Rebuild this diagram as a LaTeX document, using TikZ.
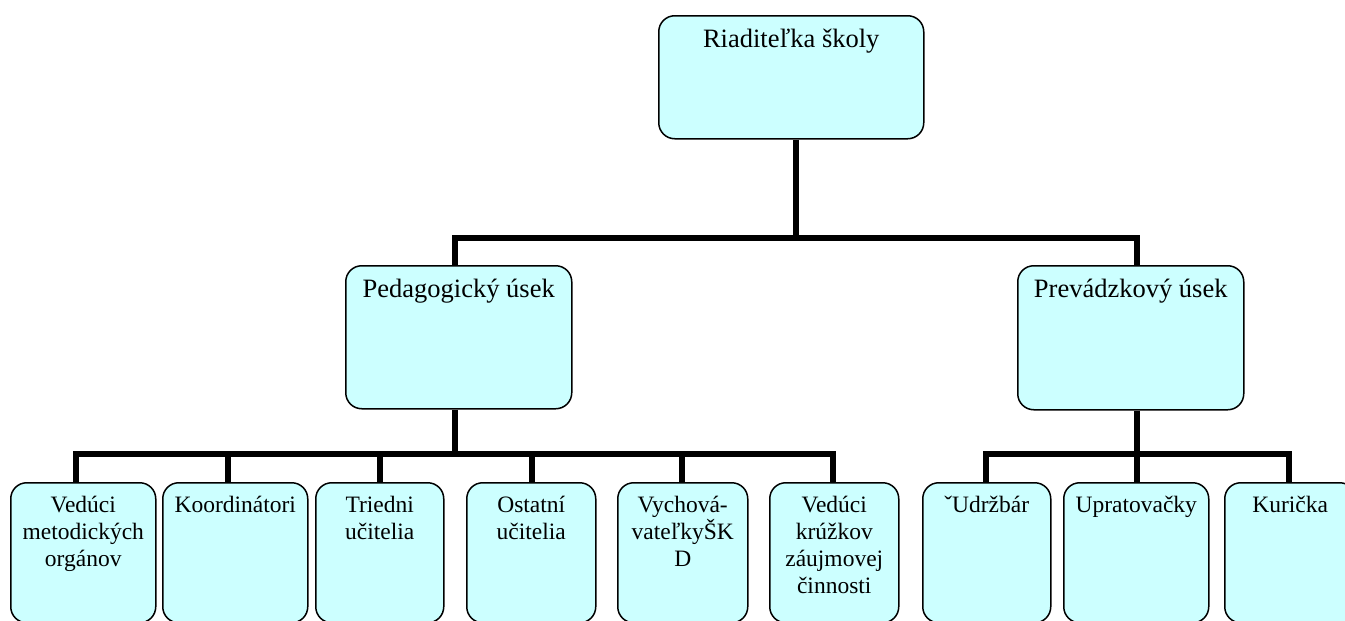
\documentclass[tikz,border=0pt]{standalone}
\usepackage{fontspec}
\setmainfont{Liberation Serif}
\usetikzlibrary{backgrounds}
\definecolor{boxfill}{HTML}{CCFFFF}
\newcommand{\bigtxt}{\fontsize{26.5pt}{30pt}\selectfont}
\newcommand{\smalltxt}{\fontsize{23.5pt}{27pt}\selectfont}
\newcommand{\topbox}[3]{\parbox[t][#2][t]{#1}{\centering\bigtxt\rule{0pt}{22pt}#3}}
\newcommand{\lowbox}[2]{\parbox[t][116pt][t]{#1}{\centering\smalltxt\rule{0pt}{18pt}#2}}
\tikzset{
  box/.style={draw, fill=boxfill, line width=1.5pt, rounded corners=16pt,
    inner xsep=0pt, anchor=north west},
  upbox/.style={box, inner ysep=10pt},
  lobox/.style={box, inner ysep=12pt},
  conn/.style={line width=5.5pt}
}
\begin{document}
\begin{tikzpicture}[x=1pt,y=-1pt]
\useasboundingbox (0,0) rectangle (1345,621);
\clip (0,0) rectangle (1345,621);
% upper level
\node[upbox] (top) at (658,15) {\topbox{265pt}{103pt}{Riaditeľka školy}};
\node[upbox] (ped) at (345,265) {\topbox{226pt}{123pt}{Pedagogický úsek}};
\node[upbox] (prev) at (1017,265) {\topbox{226pt}{124pt}{Prevádzkový úsek}};
% lower level
\node[lobox] (b1) at (10,482) {\lowbox{145pt}{Vedúci\\metodických\\orgánov}};
\node[lobox] (b2) at (162,482) {\lowbox{145pt}{Koordinátori}};
\node[lobox] (b3) at (315,482) {\lowbox{128pt}{Triedni\\učitelia}};
\node[lobox] (b4) at (466,482) {\lowbox{129pt}{Ostatní\\učitelia}};
\node[lobox] (b5) at (617,482) {\lowbox{130pt}{Vychová-\\vateľkyŠK\\D}};
\node[lobox] (b6) at (769,482) {\lowbox{129pt}{Vedúci\\krúžkov\\záujmovej\\činnosti}};
\node[lobox] (b7) at (922,482) {\lowbox{128pt}{ˇUdržbár}};
\node[lobox] (b8) at (1063,482) {\lowbox{145pt}{Upratovačky}};
\node[lobox] (b9) at (1224,482) {\lowbox{131pt}{Kurička}};
% bus coordinates
\coordinate (r) at (796,238);
\coordinate (p1) at (455,238);
\coordinate (p2) at (1137,238);
\coordinate (pd) at (455,454);
\coordinate (c1) at (76,454);
\coordinate (c2) at (228,454);
\coordinate (c3) at (380,454);
\coordinate (c4) at (532,454);
\coordinate (c5) at (682,454);
\coordinate (c6) at (833,454);
\coordinate (pv) at (1137,454);
\coordinate (d1) at (986,454);
\coordinate (d3) at (1289,454);
\begin{scope}[on background layer]
\draw[conn] (r |- top.south) -- (r);
\draw[conn] (p1 |- ped.north) -- (p1) -- (p2) -- (p2 |- prev.north);
\draw[conn] (pd |- ped.south) -- (pd);
\draw[conn] (c1 |- b1.north) -- (c1) -- (c6) -- (c6 |- b6.north);
\draw[conn] (c2) -- (c2 |- b2.north);
\draw[conn] (c3) -- (c3 |- b3.north);
\draw[conn] (c4) -- (c4 |- b4.north);
\draw[conn] (c5) -- (c5 |- b5.north);
\draw[conn] (pv |- prev.south) -- (pv);
\draw[conn] (d1 |- b7.north) -- (d1) -- (d3) -- (d3 |- b9.north);
\draw[conn] (pv) -- (pv |- b8.north);
\end{scope}
\end{tikzpicture}
\end{document}
